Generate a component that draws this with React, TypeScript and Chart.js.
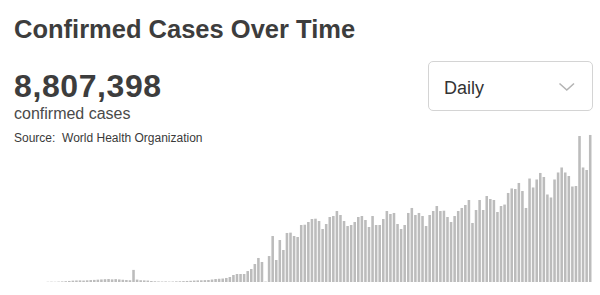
import React, { useEffect, useRef } from "react";
import { Chart, registerables } from "chart.js";

Chart.register(...registerables);

// Daily confirmed cases, 11 Jan – 20 Jun 2020
const earlyCases = [
  0, 0, 0, 0, 0, 0, 0, 0, 0, 300,
  400, 300, 500, 700, 1000, 1300, 1700, 1900, 2000, 1800, 2100, 2400, 2600, 2900, 3200, 3500, 3700, 3300, 3600, 3200, 2800, 2500, 2200,
  15000,
  3000, 2200, 2000, 1800, 1200, 900, 700, 600, 700, 500, 600,
  800, 900, 1100, 1300, 1500, 1800, 2000, 2100, 2300,
  2500, 3100, 3700, 4000, 4300, 5000, 6200,
  8700, 9900, 9900, 9900, 13600, 16100, 22300, 29800, 24800, 500,
];
const springCases = [
  32200, 57000, 27300, 52100, 39700, 60800, 61200, 57000, 55800, 70700,
  71000, 74400, 78100, 78500, 75600, 65700, 71900, 80600, 81800, 88000,
  83100, 75600, 69400, 70700, 74400, 80600, 81800, 76900, 68200, 81800,
  70700, 70700, 78100, 88000, 84300, 85600,
];
const summerCases = [
  71900, 65700, 70700, 85600, 91800, 83100, 85600, 81800, 69400, 83100,
  88000, 94200, 88000, 88400, 80600, 74400, 81800, 88000, 91800, 95500,
  101700, 73200, 89300, 101700, 89300, 106600, 102900, 101700, 86800, 94200,
  96000, 110400, 116000, 115300, 122800, 112800, 91800, 128300, 117200, 127100,
  135200, 130200, 108500, 104800, 127100, 135800, 142000, 135800, 131400, 118400,
  119000, 181000, 142000, 138900, 182300,
];
const dailyCases = [...earlyCases, ...springCases, ...summerCases];
const startDate = new Date(Date.UTC(2020, 0, 11));
const dayLabels = dailyCases.map((_, i) => {
  const d = new Date(startDate.getTime() + i * 86400000);
  return d.toISOString().slice(0, 10);
});
const totalLabel = "8,807,398";
const yMax = 183500;

const FONT = '"Liberation Sans", Arial, Helvetica, sans-serif';

export default function App() {
  const canvasRef = useRef<HTMLCanvasElement | null>(null);

  useEffect(() => {
    if (!canvasRef.current) return;
    const chart = new Chart(canvasRef.current, {
      type: "bar",
      data: {
        labels: dayLabels,
        datasets: [
          {
            data: dailyCases,
            backgroundColor: "#bcbcbc",
            borderWidth: 0,
            barPercentage: 0.72,
            categoryPercentage: 1,
          },
        ],
      },
      options: {
        animation: false,
        responsive: false,
        maintainAspectRatio: false,
        layout: { padding: 0 },
        plugins: { legend: { display: false }, tooltip: { enabled: false } },
        scales: {
          x: { display: false },
          y: { display: false, min: 0, max: yMax },
        },
      },
    });
    return () => chart.destroy();
  }, []);

  const text = (
    content: string,
    left: number,
    baseline: number,
    size: number,
    extra: React.CSSProperties = {}
  ) => (
    <div
      style={{
        position: "absolute",
        left,
        top: baseline - 0.8465 * size,
        fontSize: size,
        lineHeight: 1,
        fontFamily: FONT,
        whiteSpace: "pre",
        ...extra,
      }}
    >
      {content}
    </div>
  );

  return (
    <div
      style={{
        position: "fixed",
        left: 0,
        top: 0,
        width: 600,
        height: 295,
        background: "#ffffff",
        overflow: "hidden",
      }}
    >
      {text("Confirmed Cases Over Time", 14, 39, 25.5, { fontWeight: 700, color: "#3d3d3d" })}
      {text(totalLabel, 14, 97, 32, { fontWeight: 700, color: "#3d3d3d", letterSpacing: 0.6 })}
      {text("confirmed cases", 14, 120, 16, { color: "#4a4a4a" })}
      {text("Source:  World Health Organization", 14, 142, 12, { color: "#3a3a3a" })}

      <div
        style={{
          position: "absolute",
          left: 428,
          top: 61,
          width: 163,
          height: 48,
          border: "1px solid #d4d4d4",
          borderRadius: 5,
          background: "#fff",
        }}
      />
      {text("Daily", 444, 94, 18, { color: "#333" })}
      <svg
        style={{ position: "absolute", left: 0, top: 0 }}
        width={600}
        height={295}
      >
        <polyline
          points="559.5,83.5 566.8,90 574,83.5"
          fill="none"
          stroke="#b4b4b4"
          strokeWidth={1.6}
        />
      </svg>

      <canvas
        ref={canvasRef}
        width={578}
        height={148}
        style={{ position: "absolute", left: 14, top: 134, width: 578, height: 148 }}
      />
    </div>
  );
}
